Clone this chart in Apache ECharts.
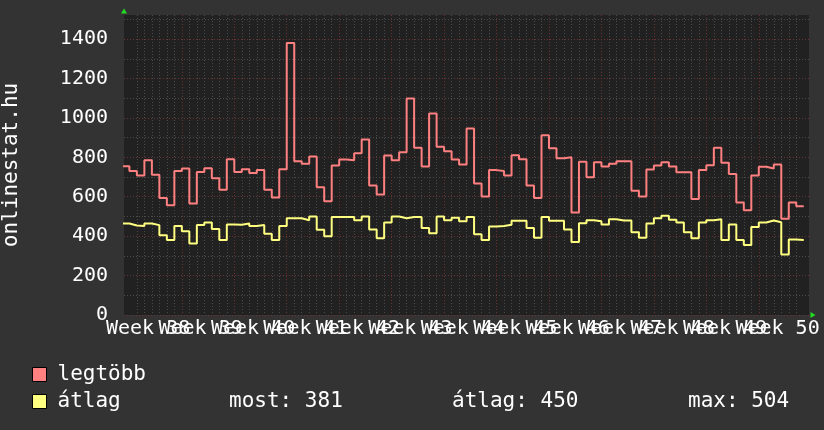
<!DOCTYPE html>
<html><head><meta charset="utf-8">
<script src="https://cdn.jsdelivr.net/npm/echarts@6/dist/echarts.min.js"></script>
<style>html,body{margin:0;padding:0;background:#333333;} #c{width:824px;height:430px;}</style>
</head><body><div id="c"></div>
<script>
// ---- data (one value per day) ----
const weekLabels = ['Week 38','Week 39','Week 40','Week 41','Week 42','Week 43','Week 44','Week 45','Week 46','Week 47','Week 48','Week 49','Week 50'];
const seriesNames = ['legtöbb', 'átlag'];
const legtobb = [755,730,708,785,712,593,557,730,743,566,726,745,694,635,790,726,740,721,735,635,596,740,1380,
  780,767,804,648,577,758,789,785,821,890,657,611,809,785,826,1098,848,753,1022,854,831,789,
  763,946,667,601,735,731,708,811,790,657,593,912,846,795,800,520,778,699,775,753,767,780,780,
  630,601,738,758,775,753,724,724,588,735,760,849,772,715,571,532,708,752,743,763,488,571,552];
const atlag = [464,454,451,464,456,405,380,451,425,363,456,469,436,380,459,458,464,452,456,412,380,451,491,
  491,481,500,432,400,497,497,497,481,500,434,390,469,500,491,497,497,442,415,500,481,493,
  476,497,410,380,449,451,458,478,478,442,392,497,478,478,434,370,466,481,476,459,486,479,479,
  420,392,464,491,504,483,469,420,390,469,481,486,380,459,380,355,446,469,479,471,307,383,381];
const yTickLabels = [0, 200, 400, 600, 800, 1000, 1200, 1400];
const statTexts = ['most: 381', 'átlag: 450', 'max: 504'];
const axisTitle = 'onlinestat.hu';

const FONT = '"DejaVu Sans Mono", monospace';
const GRAY = '#4a4a4a';
const RED = '#6a3232';
const GREEN = '#22dd22';
const X_MIN = 0.28, X_MAX = 91.7;

function toSteps(arr) {
  const pts = arr.map((v, i) => [i, v]);
  pts.push([arr.length, arr[arr.length - 1]]);
  return pts;
}
const dayLines = [];
for (let d = 1; d <= legtobb.length; d++) dayLines.push(d);
const labelPos = weekLabels.map((_, i) => 3.5 + 7 * i);
const evenPos = labelPos.filter((_, i) => i % 2 === 0);
const oddPos = labelPos.filter((_, i) => i % 2 === 1);
const labelStyle = {
  hideOverlap: false, showMinLabel: true, showMaxLabel: true,
  formatter: v => weekLabels[Math.round((v - 3.5) / 7)] || '',
  color: '#ffffff', fontFamily: FONT, fontSize: 20, margin: 4
};

const chart = echarts.init(document.getElementById('c'), null, {renderer: 'canvas'});
chart.setOption({
  backgroundColor: '#333333',
  animation: false,
  grid: {left: 124, right: 15, top: 15, bottom: 115, show: true, backgroundColor: '#212121', borderWidth: 0,
    containLabel: false, outerBoundsMode: 'none'},
  xAxis: [{
    type: 'value', min: X_MIN, max: X_MAX, position: 'bottom',
    axisLine: {show: true, symbol: ['none', 'triangle'], symbolSize: [6, 5], symbolOffset: [0, 4],
      lineStyle: {color: GREEN, width: 0}},
    axisTick: {show: false, customValues: dayLines},
    splitLine: {show: true, showMinLine: false, showMaxLine: false,
      lineStyle: {color: [GRAY, GRAY, GRAY, GRAY, GRAY, GRAY, RED], type: [1, 2], width: 1}},
    axisLabel: Object.assign({customValues: evenPos}, labelStyle)
  }, {
    type: 'value', min: X_MIN, max: X_MAX, position: 'bottom', offset: 0,
    axisLine: {show: false}, axisTick: {show: false}, splitLine: {show: false},
    axisLabel: Object.assign({customValues: oddPos}, labelStyle)
  }],
  yAxis: {
    type: 'value', min: 0, max: 1522, interval: 100,
    name: axisTitle, nameLocation: 'middle', nameGap: 102,
    nameTextStyle: {color: '#ffffff', fontFamily: FONT, fontSize: 21},
    axisLine: {show: true, symbol: ['none', 'triangle'], symbolSize: [6, 5], symbolOffset: [0, 4],
      lineStyle: {color: GREEN, width: 0}},
    axisTick: {show: false},
    splitLine: {show: true, showMaxLine: false,
      lineStyle: {color: [RED, GRAY], type: [1, 2], width: 1}},
    axisLabel: {formatter: v => yTickLabels.indexOf(v) >= 0 ? String(v) : '',
      showMinLabel: true, hideOverlap: false,
      color: '#ffffff', fontFamily: FONT, fontSize: 20, margin: 16}
  },
  legend: {
    orient: 'vertical', left: 32, top: 361, padding: 0, itemGap: 0,
    itemWidth: 14, itemHeight: 14, icon: 'rect',
    itemStyle: {borderColor: '#000000', borderWidth: 1},
    textStyle: {color: '#ffffff', fontFamily: FONT, fontSize: 21, lineHeight: 27, padding: [0, 0, 0, 6]},
    data: seriesNames
  },
  graphic: statTexts.map((t, i) => ({
    type: 'text', x: [229, 452, 688][i], y: 401.5,
    style: {text: t, fill: '#ffffff', font: '21px ' + FONT, verticalAlign: 'middle'}
  })),
  series: [
    {type: 'line', name: seriesNames[0], data: toSteps(legtobb), step: 'end', showSymbol: false, symbol: 'none',
      lineStyle: {color: '#ff8080', width: 2}, itemStyle: {color: '#ff8080'}, z: 3},
    {type: 'line', name: seriesNames[1], data: toSteps(atlag), step: 'end', showSymbol: false, symbol: 'none',
      lineStyle: {color: '#ffff80', width: 2}, itemStyle: {color: '#ffff80'}, z: 3}
  ]
});
</script>
</body></html>
